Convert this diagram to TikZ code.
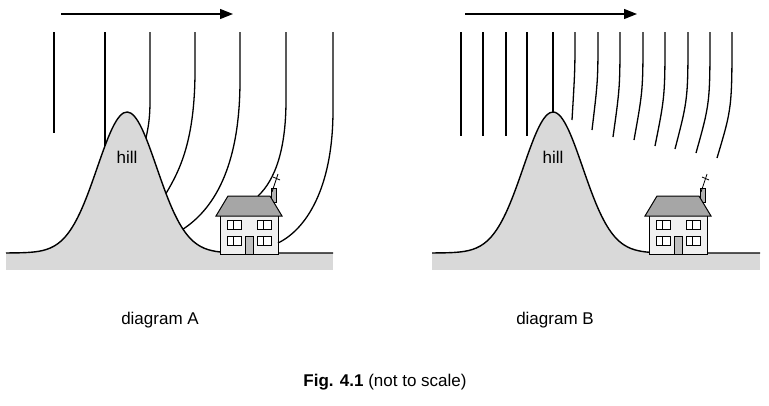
\documentclass[tikz,border=0pt]{standalone}
\usepackage{fontspec}
\setmainfont{Liberation Sans}
\usetikzlibrary{arrows.meta}
\tikzset{
    declare function={hillA(\t)=253-141*exp(-((\t-127)/42)^2); hillB(\t)=253-141*exp(-((\t-553)/42)^2);},
    wave/.style={line width=1.3pt, black},
    ground/.style={fill=gray!30, draw=none},
    hillline/.style={line width=1.4pt, black},
    house/.pic={
        % chimney, aerial, body, roof, windows, door
        \draw[fill=gray!60, line width=0.6pt] (51,-24) rectangle (56,-10);
        \draw[black, line width=0.8pt] (52,-20) -- (58,-38);
        \draw[black, line width=0.8pt] (53,-35) -- (60,-32);
        \draw[fill=gray!12, line width=1pt] (0,0) rectangle (58,42);
        \draw[fill=gray!70, line width=1pt] (-4,4) -- (8,-16) -- (50,-16) -- (62,4) -- cycle;
        \foreach \wx/\wy in {7/17, 37/17, 7/33, 37/33} {
            \draw[fill=white, line width=0.7pt] (\wx,\wy) rectangle ++(14,-9);
            \draw[line width=0.5pt] (\wx+6,\wy) -- ++(0,-9);
        }
        \draw[fill=gray!50, line width=0.7pt] (25,24) rectangle (33,42);
    },
}
\begin{document}
\begin{tikzpicture}[x=1pt, y=-1pt, every node/.style={font=\fontsize{17}{20}\selectfont}]
    \useasboundingbox (0,0) rectangle (769,405);

    % diagram A
    \fill[ground] (6,253) rectangle (333,270);
    \fill[ground] plot[domain=6:333, samples=90, smooth] (\x, {hillA(\x)}) -- (333,253) -- cycle;
    \draw[hillline] plot[domain=6:333, samples=90, smooth] (\x, {hillA(\x)});
    \pic at (220,212) {house};
    \node (hillA) at (127,157) {hill};
    \draw[wave, -{Triangle[length=13pt, width=10pt]}] (61,14) -- (233,14);
    \draw[wave] (54,32) -- (54,133);
    \draw[wave] (105,32) -- (105,{hillA(105)});
    \draw[wave] (150,32) -- (150,100) .. controls (150,120) and (148,128) .. (146,{hillA(146)});
    \draw[wave] (195,32) -- (195,70) .. controls (195,140) and (180,170) .. (166,{hillA(166)});
    \draw[wave] (240,32) -- (240,80) .. controls (240,170) and (212,210) .. (183,{hillA(183)});
    \draw[wave] (286,32) -- (286,100) .. controls (286,150) and (275,180) .. (258,196);
    \draw[wave] (333,32) -- (333,110) .. controls (333,190) and (305,230) .. (278,243);
    \node (labA) at (160,320) {diagram A};

    % diagram B
    \fill[ground] (432,253) rectangle (760,270);
    \fill[ground] plot[domain=432:760, samples=90, smooth] (\x, {hillB(\x)}) -- (760,253) -- cycle;
    \draw[hillline] plot[domain=432:760, samples=90, smooth] (\x, {hillB(\x)});
    \pic at (649,212) {house};
    \node (hillB) at (553,157) {hill};
    \draw[wave, -{Triangle[length=13pt, width=10pt]}] (465,14) -- (637,14);
    \foreach \xt in {461,483,506,527} {
        \draw[wave] (\xt,32) -- (\xt,136);
    }
    \draw[wave] (553,32) -- (553,112);
    \foreach \xt/\xb/\yb in {575/572/120, 598/592/130, 620/613/137, 643/634/140, 665/655/146, 688/675/149, 710/696/153, 732/717/158} {
        \draw[wave] (\xt,32) .. controls (\xt,{\yb-50}) .. (\xb,\yb);
    }
    \node (labB) at (555,320) {diagram B};

    \node (caption) at (385,382) {\textbf{Fig. 4.1} (not to scale)};
\end{tikzpicture}
\end{document}
